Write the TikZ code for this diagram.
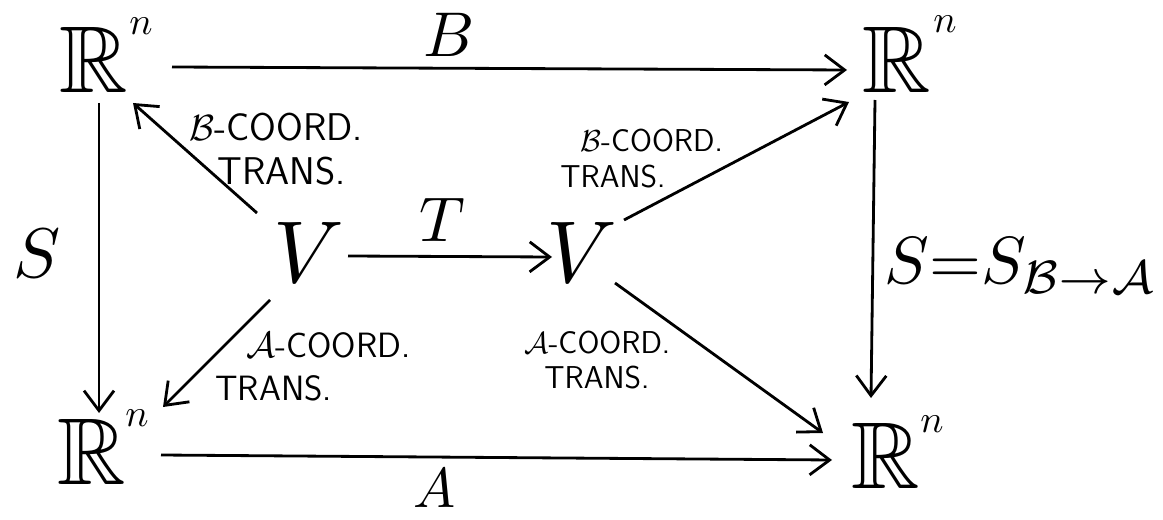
\documentclass[tikz,border=0pt]{standalone}
\usepackage{graphicx}
\usepackage{amssymb}
\usetikzlibrary{arrows.meta}
% math set at 10pt and magnified, since the math fonts only come in fixed sizes
\newcommand\Mag[2]{\scalebox{#1}{$#2$}}
\begin{document}
\begin{tikzpicture}[x=0.02cm,y=-0.02cm,
  bare/.style={inner sep=0pt},
  small/.style={inner sep=0pt,anchor=west,font=\sffamily\fontsize{22}{26}\selectfont},
  smaller/.style={small,font=\sffamily\fontsize{18}{22}\selectfont},
  arr/.style={line width=1.6pt,-{Straight Barb[length=4mm,width=6mm,line width=1.6pt]}}]
\useasboundingbox (0,0) rectangle (1163,520);
% the four copies of R^n
\node[bare] (tl) at (94,60) {\Mag{5.4}{\mathbb{R}}};
\node[bare] (tln) at (141,26) {\Mag{2.2}{n}};
\node[bare] (tr) at (897,60) {\Mag{5.4}{\mathbb{R}}};
\node[bare] (trn) at (945,24) {\Mag{2.2}{n}};
\node[bare] (bl) at (92,452) {\Mag{5.4}{\mathbb{R}}};
\node[bare] (bln) at (137,418) {\Mag{2.2}{n}};
\node[bare] (br) at (886,456) {\Mag{5.4}{\mathbb{R}}};
\node[bare] (brn) at (932,424) {\Mag{2.2}{n}};
% the two copies of V
\node[bare] (vl) at (309,252) {\Mag{5}{V}};
\node[bare] (vr) at (582,252) {\Mag{5}{V}};
% ends of the connectors
\coordinate (tlE) at (172,67);  \coordinate (trW) at (847,70);
\coordinate (tlS) at (99,103);  \coordinate (blN) at (99,413);
\coordinate (trS) at (875,100); \coordinate (brN) at (871,398);
\coordinate (blE) at (161,455); \coordinate (brW) at (832,460);
\coordinate (vlE) at (348,256); \coordinate (vrW) at (552,257);
\coordinate (vlNW) at (257,213); \coordinate (tlSE) at (133,103);
\coordinate (vlSW) at (270,300); \coordinate (blNE) at (163,407);
\coordinate (vrNE) at (624,220); \coordinate (trSW) at (849,102);
\coordinate (vrSE) at (615,283); \coordinate (brNW) at (823,433);
% connectors
\draw[arr] (tlE) -- (trW);
\draw[arr] (blE) -- (brW);
\draw[arr] (tlS) -- (blN);
\draw[arr] (trS) -- (brN);
\draw[arr] (vlE) -- (vrW);
\draw[arr] (vlNW) -- (tlSE);
\draw[arr] (vlSW) -- (blNE);
\draw[arr] (vrNE) -- (trSW);
\draw[arr] (vrSE) -- (brNW);
% arrow labels
\node[bare] (lb) at (449,35) {\Mag{3.6}{B}};
\node[bare] (la) at (435,488) {\Mag{3.2}{A}};
\node[bare] (ls) at (37,253) {\Mag{4}{S}};
\node[bare] (lt) at (442,220) {\Mag{3.6}{T}};
\node[bare,anchor=base west] (lss) at (884,283) {\Mag{3.8}{S{=}S_{\mathcal{B}\to\mathcal{A}}}};
\node[small] (c1a) at (189,127) {$\mathcal{B}$-COORD.};
\node[small] (c1b) at (217,171) {TRANS.};
\node[smaller] (c2a) at (580,141) {$\mathcal{B}$-COORD.};
\node[smaller] (c2b) at (560,177) {TRANS.};
\node[small,font=\sffamily\fontsize{20}{24}\selectfont] (c3a) at (246,345) {$\mathcal{A}$-COORD.};
\node[small,font=\sffamily\fontsize{20}{24}\selectfont] (c3b) at (215,388) {TRANS.};
\node[smaller] (c4a) at (524,343) {$\mathcal{A}$-COORD.};
\node[smaller] (c4b) at (544,378) {TRANS.};
\end{tikzpicture}
\end{document}
